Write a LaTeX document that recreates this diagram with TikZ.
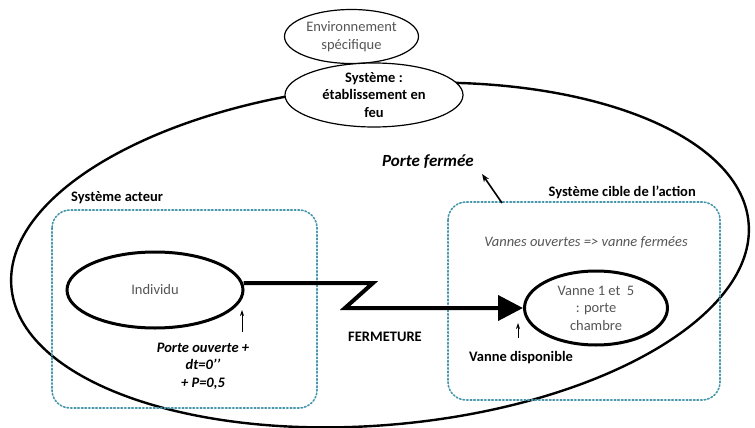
\documentclass[tikz,border=0pt]{standalone}
\usepackage{fontspec}
\setmainfont{Carlito}
\usetikzlibrary{shapes.geometric,arrows.meta}
\definecolor{dotblue}{RGB}{70,150,170}
\definecolor{txtgray}{RGB}{85,85,85}
\begin{document}
\begin{tikzpicture}[x=1pt,y=1pt,
  every node/.style={font=\fontsize{14.5}{17.5}\selectfont},
  ell/.style={ellipse, draw, fill=white, inner sep=0pt, align=center},
  sysbox/.style={draw=dotblue, dotted, line width=1.6pt, rounded corners=18pt, line cap=round},
  conn/.style={line width=4pt},
  smallarrow/.style={line width=0.8pt, -{Stealth[length=6pt,width=4pt]}},
  lbl/.style={inner sep=0pt},
  boldlbl/.style={inner sep=0pt, font=\fontsize{14.5}{17.5}\selectfont\bfseries},
  bilbl/.style={inner sep=0pt, align=center, font=\fontsize{14.5}{17.5}\selectfont\bfseries\itshape}
]
\useasboundingbox (0,0) rectangle (755,-428);

% outer system ellipse
\draw[line width=2.4pt, rotate around={5:(380,-255)}] (380,-255) ellipse [x radius=370, y radius=170];

% dotted system boxes
\draw[sysbox] (52,-210) rectangle (317,-408);
\draw[sysbox] (448,-202) rectangle (720,-400);

% top ellipses
\node[ell, line width=1.2pt, minimum width=134pt, minimum height=54pt, text=txtgray] (env) at (351.5,-36.5) {Environnement\\spécifique};
\node[ell, line width=1.2pt, minimum width=178pt, minimum height=64pt, font=\fontsize{14.5}{17.5}\selectfont\bfseries] (sys) at (374,-95) {Système :\\établissement en\\feu};

% inner ellipses
\node[ell, line width=3pt, minimum width=176pt, minimum height=76pt, text=txtgray] (individu) at (155,-290) {Individu};
\node[ell, line width=3pt, minimum width=143pt, minimum height=74pt, text=txtgray] (vanne) at (596,-308) {Vanne 1 et\ \ 5\\: porte\\chambre};

% connector
\coordinate (z1) at (373,-283);
\coordinate (z2) at (345,-308);
\draw[conn, -{Triangle[length=25pt,width=25pt]}] (individu.east) ++(-1,7) coordinate (z0) -- (z0 -| z1) -- (z2) -- (vanne.west);

% labels
\node[boldlbl, anchor=west] (lacteur) at (71,-198) {Système acteur};
\node[boldlbl, anchor=east] (lcible) at (696,-192) {Système cible de l’action};
\node[bilbl, anchor=west, font=\fontsize{17}{20}\selectfont\bfseries\itshape] (pferm) at (382,-162) {Porte fermée};
\node[lbl, text=txtgray, font=\fontsize{14.5}{17.5}\selectfont\itshape] (vannes) at (586,-242) {Vannes ouvertes => vanne fermées};
\node[boldlbl] (ferm) at (385,-337) {FERMETURE};
\node[boldlbl] (vdispo) at (521,-358) {Vanne disponible};
\node[bilbl] (pouv) at (203,-366) {Porte ouverte +\\dt=0’’\\+ P=0,5};

% small arrows
\coordinate (a1s) at (242,-332);
\coordinate (a1e) at (242,-310);
\draw[smallarrow] (a1s) -- (a1e);
\coordinate (a2s) at (518,-338);
\coordinate (a2e) at (518,-323);
\draw[smallarrow] (a2s) -- (a2e);
\coordinate (a3s) at (502,-203);
\coordinate (a3e) at (482,-174);
\draw[line width=1.6pt, -{Stealth[length=8pt,width=6pt]}] (a3s) -- (a3e);
\end{tikzpicture}
\end{document}
